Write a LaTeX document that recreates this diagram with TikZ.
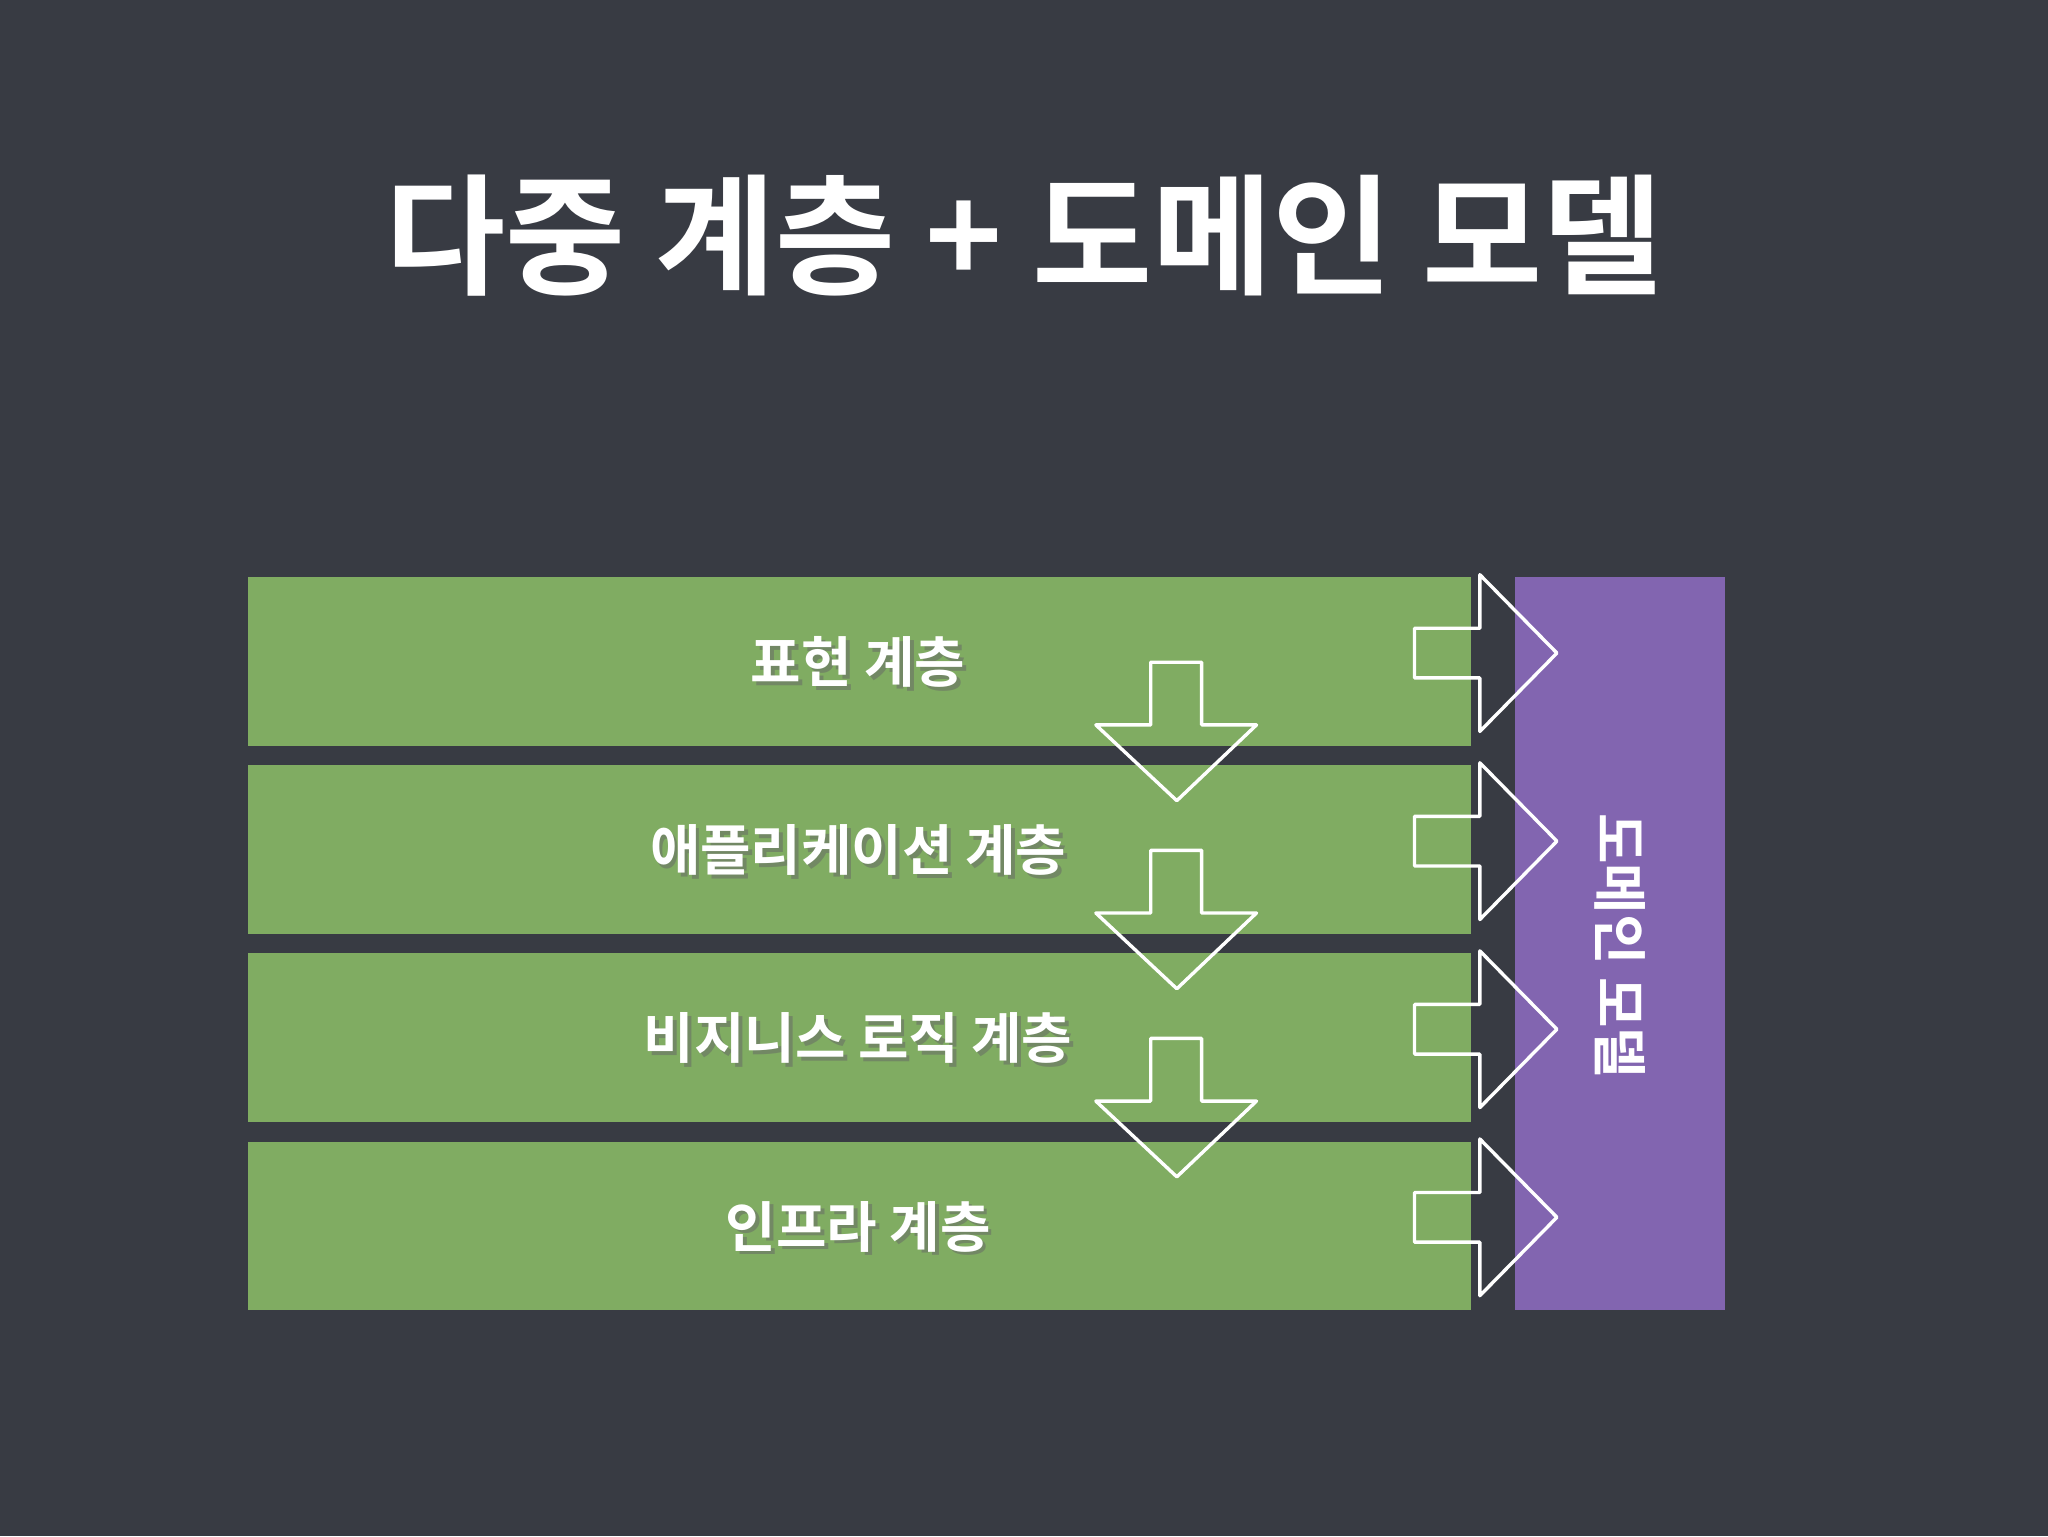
\documentclass[tikz,border=0pt]{standalone}
\usepackage{fontspec}
\newfontfamily\kr{Noto Sans CJK KR}[BoldFont={* Bold}]
\begin{document}
\begin{tikzpicture}[x=1pt,y=-1pt,
  lbl/.style={text=white,font=\kr\bfseries\fontsize{42}{44}\selectfont},
  arr/.style={draw=white,line width=2.6pt,line join=round}]
\definecolor{bg}{HTML}{383B43}
\definecolor{barGreen}{HTML}{80AC62}
\definecolor{purp}{HTML}{8265B0}
\useasboundingbox (0,0) rectangle (1568,1176);
\fill[bg] (0,0) rectangle (1568,1176);
\node[text=white,font=\kr\bfseries\fontsize{100}{104}\selectfont] (title) at (784,180) {다중 계층 + 도메인 모델};
\foreach \i/\t in {0/표현 계층,1/애플리케이션 계층,2/비지니스 로직 계층,3/인프라 계층}{
  \pgfmathsetmacro{\yy}{442+144*\i}
  \fill[barGreen] (190,\yy) rectangle (1126,\yy+129);
  \node[text=black!60,opacity=0.5,font=\kr\bfseries\fontsize{42}{44}\selectfont] at (660,\yy+68) {\t};
  \node[lbl] (l\i) at (657,\yy+65) {\t};
}
\fill[purp] (1160,442) rectangle (1321,1003);
\node[lbl,rotate=-90] (dm) at (1240,724) {도메인 모델};
\foreach \i in {0,1,2,3}{
  \pgfmathsetmacro{\c}{500+144*\i}
  \draw[arr] (1083,\c-19) -- (1133,\c-19) -- (1133,\c-60) -- (1192,\c) -- (1133,\c+60) -- (1133,\c+19) -- (1083,\c+19) -- cycle;
}
\foreach \i in {0,1,2}{
  \pgfmathsetmacro{\t}{507+144*\i}
  \draw[arr] (881,\t) -- (920,\t) -- (920,\t+48) -- (962,\t+48) -- (901,\t+106) -- (839,\t+48) -- (881,\t+48) -- cycle;
}
\end{tikzpicture}
\end{document}
